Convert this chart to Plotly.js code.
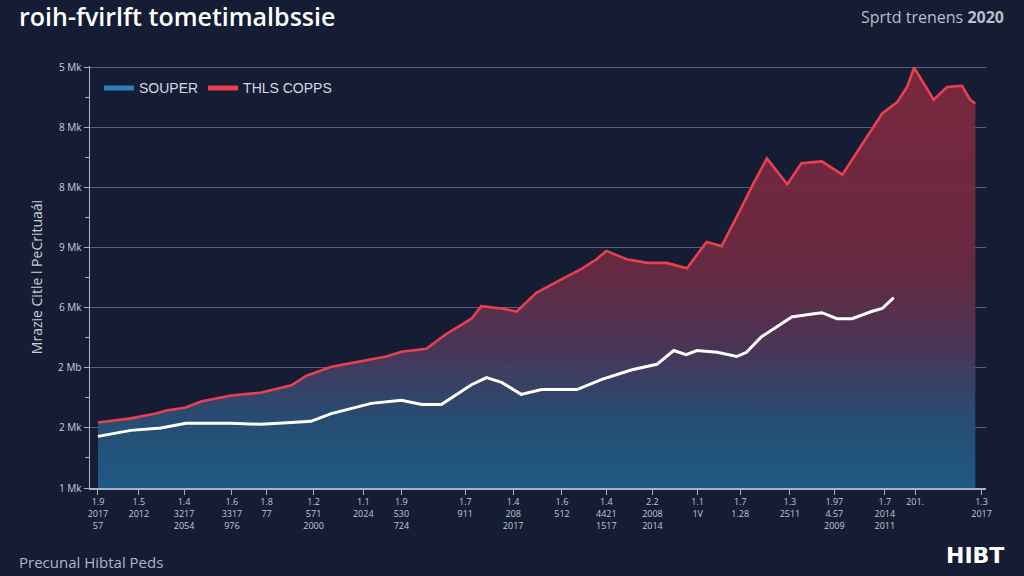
<!DOCTYPE html>
<html>
<head>
<meta charset="utf-8">
<script src="https://cdn.plot.ly/plotly-3.0.1.min.js"></script>
<style>
  html, body { margin: 0; padding: 0; background: #141d33; }
  #chart { width: 1024px; height: 576px; }
</style>
</head>
<body>
<div id="chart"></div>
<script>
// ---- data ----
const redX = [0.9, 4.6, 7.4, 8.6, 10.8, 12.5, 15.9, 19.3, 22.7, 24.4, 27.2, 30.6, 33.4, 35.1, 37.9, 40.2, 43.0,
              44.1, 46.4, 48.1, 50.3, 53.2, 55.4, 57.1, 58.2, 60.5, 62.8, 65.0, 67.3, 69.5, 71.2, 73.5, 74.6,
              76.3, 78.6, 80.2, 82.5, 84.8, 87.0, 89.3, 91.0, 92.1, 92.9, 95.1, 96.6, 98.3, 99.2, 99.8];
const redY = [1.09, 1.16, 1.24, 1.29, 1.34, 1.44, 1.54, 1.59, 1.71, 1.87, 2.02, 2.12, 2.19, 2.27, 2.32, 2.57, 2.82,
              3.03, 2.99, 2.94, 3.25, 3.48, 3.65, 3.81, 3.95, 3.81, 3.75, 3.75, 3.66, 4.10, 4.03, 4.69, 5.02,
              5.49, 5.06, 5.41, 5.44, 5.22, 5.72, 6.24, 6.43, 6.68, 7.00, 6.47, 6.68, 6.70, 6.47, 6.40];

const whiteX = [0.9, 4.6, 8.0, 10.8, 15.9, 19.3, 22.7, 24.9, 27.2, 30.0, 31.7, 35.1, 37.4, 39.6, 43.0, 44.7,
                46.4, 48.6, 50.9, 54.9, 57.7, 61.1, 63.9, 65.8, 67.2, 68.4, 70.7, 72.9, 74.0, 75.7, 79.1,
                81.4, 82.5, 84.2, 85.9, 88.1, 89.3, 90.6];
const whiteY = [0.86, 0.96, 1.00, 1.08, 1.08, 1.06, 1.09, 1.11, 1.24, 1.34, 1.41, 1.46, 1.39, 1.39, 1.72, 1.84,
                1.76, 1.56, 1.64, 1.64, 1.81, 1.97, 2.06, 2.29, 2.22, 2.29, 2.26, 2.19, 2.26, 2.52, 2.85,
                2.90, 2.92, 2.82, 2.82, 2.94, 2.99, 3.17];

const yTickVals = [0, 1, 2, 3, 4, 5, 6, 7];
const yTickText = ['1 Mk', '2 Mk', '2 Mb', '6 Mk', '9 Mk', '8 Mk', '8 Mk', '5 Mk'];

const xTickVals = [0.9, 5.5, 10.6, 16.0, 19.9, 25.2, 30.8, 35.1, 42.3, 47.7, 53.2, 58.2, 63.4, 68.5,
                   73.3, 78.9, 83.9, 89.6, 93.0, 100.5];
const xTickText = ['1.9<br>2017<br>57', '1.5<br>2012', '1.4<br>3217<br>2054', '1.6<br>3317<br>976',
                   '1.8<br>77', '1.2<br>571<br>2000', '1.1<br>2024', '1.9<br>530<br>724', '1.7<br>911',
                   '1.4<br>208<br>2017', '1.6<br>512', '1.4<br>4421<br>1517', '2.2<br>2008<br>2014',
                   '1.1<br>1V', '1.7<br>1.28', '1.3<br>2511', '1.97<br>4.57<br>2009', '1.7<br>2014<br>2011',
                   '201.', '1.3<br>2017'];

const seriesNames = ['SOUPER', 'THLS COPPS'];

// ---- chart ----
const traces = [
  {
    x: redX, y: redY, type: 'scatter', mode: 'lines', showlegend: false, hoverinfo: 'skip',
    line: { color: '#e8404f', width: 2.6 },
    fill: 'tozeroy',
    fillgradient: {
      type: 'vertical', start: 0, stop: 7,
      colorscale: [
        [0, 'rgba(31,94,138,0.93)'],
        [0.16, 'rgba(40,80,120,0.93)'],
        [0.34, 'rgba(78,54,88,0.93)'],
        [0.52, 'rgba(108,42,66,0.93)'],
        [1, 'rgba(130,40,62,0.93)']
      ]
    }
  },
  {
    x: whiteX, y: whiteY, type: 'scatter', mode: 'lines', showlegend: false, hoverinfo: 'skip',
    line: { color: '#ffffff', width: 3 }
  },
  { x: [null], y: [null], type: 'scatter', mode: 'lines', name: seriesNames[0],
    line: { color: '#2f7cb8', width: 5 } },
  { x: [null], y: [null], type: 'scatter', mode: 'lines', name: seriesNames[1],
    line: { color: '#e8404f', width: 5 } }
];

const layout = {
  width: 1024, height: 576,
  paper_bgcolor: '#141d33', plot_bgcolor: '#141d33',
  margin: { l: 90, r: 38, t: 66, b: 88 },
  font: { family: 'Open Sans, sans-serif', color: '#c8cfdb' },
  showlegend: true,
  legend: {
    x: 0.01, y: 0.985, xanchor: 'left', yanchor: 'top', orientation: 'h',
    bgcolor: 'rgba(0,0,0,0)', font: { size: 14, color: '#d2d8e2', family: 'Liberation Sans, Arial, sans-serif' },
    itemwidth: 30, tracegroupgap: 0
  },
  xaxis: {
    range: [0, 101], showgrid: false, zeroline: false,
    showline: true, linecolor: '#a9b3c6', linewidth: 1.5,
    ticks: 'outside', ticklen: 5, tickcolor: '#a9b3c6',
    tickvals: xTickVals, ticktext: xTickText,
    tickfont: { size: 9, color: '#c0c8d6' }
  },
  yaxis: {
    range: [0, 7.03], zeroline: false,
    showgrid: true, gridcolor: 'rgba(170,182,204,0.45)', gridwidth: 1,
    showline: true, linecolor: '#a9b3c6', linewidth: 1.5,
    ticks: 'outside', ticklen: 5, tickcolor: '#a9b3c6',
    tickvals: yTickVals, ticktext: yTickText,
    minor: { ticks: 'outside', ticklen: 4, tickcolor: '#a9b3c6', dtick: 0.5, showgrid: false },
    tickfont: { size: 10, color: '#c8cfdb' },
    title: { text: 'Mrazie Citle l PeCrituaái', font: { size: 14, color: '#c8cfdb' }, standoff: 12 }
  },
  annotations: [
    { xref: 'paper', yref: 'paper', x: -0.082, y: 1.118, xanchor: 'left', yanchor: 'middle',
      text: 'roih-fvirlft tometimalbssie', showarrow: false,
      font: { size: 25, color: '#ffffff', family: 'Open Sans, sans-serif', weight: 600 } },
    { xref: 'paper', yref: 'paper', x: 1.022, y: 1.115, xanchor: 'right', yanchor: 'middle',
      text: 'Sprtd trenens <b>2020</b>', showarrow: false,
      font: { size: 16, color: '#b7bfcd' } },
    { xref: 'paper', yref: 'paper', x: -0.082, y: -0.175, xanchor: 'left', yanchor: 'middle',
      text: 'Precunal Hibtal Peds', showarrow: false,
      font: { size: 15, color: '#aeb6c4' } },
    { xref: 'paper', yref: 'paper', x: 1.022, y: -0.16, xanchor: 'right', yanchor: 'middle',
      text: '<b>HIBT</b>', showarrow: false,
      font: { size: 22, color: '#ffffff', family: 'DejaVu Sans, sans-serif' } }
  ]
};

Plotly.newPlot('chart', traces, layout, { staticPlot: true, displayModeBar: false });
</script>
</body>
</html>
